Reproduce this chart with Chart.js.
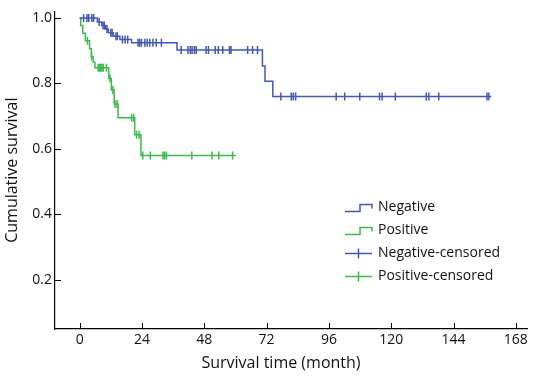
<!DOCTYPE html>
<html>
<head>
<meta charset="utf-8">
<script src="https://cdn.jsdelivr.net/npm/chart.js@4"></script>
<style>
html, body { margin: 0; padding: 0; background: #fff; }
#wrap { width: 533px; height: 377px; }
</style>
</head>
<body>
<div id="wrap"><canvas id="km"></canvas></div>
<script>
// Kaplan-Meier steps (time in months, cumulative survival)
var negTime = [0, 6.8, 8.5, 10, 11, 13, 15.5, 20, 37.5, 70.4, 71.4, 74.4, 158.6];
var negSurv = [1, 0.988, 0.977, 0.966, 0.955, 0.944, 0.934, 0.924, 0.902, 0.853, 0.807, 0.76, 0.76];
var posTime = [0, 0.4, 1.2, 2.2, 3.8, 4.5, 5.2, 5.9, 11.2, 12.2, 13.3, 14.8, 21.2, 23.6, 60.2];
var posSurv = [1, 0.977, 0.953, 0.93, 0.906, 0.882, 0.865, 0.848, 0.815, 0.78, 0.737, 0.695, 0.643, 0.58, 0.58];

// censored observations
var negCensTime = [1.5, 2.8, 3.5, 4.7, 5.4, 7.5, 9, 9.5, 10.5, 12, 12.5, 14, 14.5, 16.5, 17.5, 18.5,
  22.5, 23.1, 23.8, 25.1, 26, 27, 28.2, 29.5, 31.5,
  39.1, 41.7, 42.6, 43.3, 44.2, 44.9, 48.7, 49.6, 52.2, 53.4, 55.1, 57.7, 58.3, 64.7, 66.6, 68.5,
  77.5, 81.5, 82.3, 83.2, 98.8, 102.1, 107.9, 115.5, 116.5, 121.6, 133.5, 134.5, 138.3, 156.9, 157.6];
var negCensSurv = [1, 1, 1, 1, 1, 0.988, 0.977, 0.977, 0.966, 0.955, 0.955, 0.944, 0.944, 0.934, 0.934, 0.934,
  0.924, 0.924, 0.924, 0.924, 0.924, 0.924, 0.924, 0.924, 0.924,
  0.902, 0.902, 0.902, 0.902, 0.902, 0.902, 0.902, 0.902, 0.902, 0.902, 0.902, 0.902, 0.902, 0.902, 0.902, 0.902,
  0.76, 0.76, 0.76, 0.76, 0.76, 0.76, 0.76, 0.76, 0.76, 0.76, 0.76, 0.76, 0.76, 0.76, 0.76];
var posCensTime = [3.0, 4.6, 7.1, 7.6, 8.1, 8.6, 9.1, 10.3, 11.7, 12.8, 13.6, 14.4, 20.0, 20.8, 21.9, 22.9,
  24.3, 27.2, 32.1, 32.7, 33.4, 43.2, 51, 53.6, 58.9];
var posCensSurv = [0.93, 0.882, 0.848, 0.848, 0.848, 0.848, 0.848, 0.848, 0.815, 0.78, 0.737, 0.737, 0.695, 0.695, 0.643, 0.643,
  0.58, 0.58, 0.58, 0.58, 0.58, 0.58, 0.58, 0.58, 0.58];

var xTicks = [0, 24, 48, 72, 96, 120, 144, 168];
var yTicks = [0.2, 0.4, 0.6, 0.8, 1.0];
var labels = ['Negative', 'Positive', 'Negative-censored', 'Positive-censored'];
var xTitle = 'Survival time (month)';

var blue = '#4358b3';
var green = '#3cba4c';
var fontName = "'Open Sans', sans-serif";

function pts(t, v) {
  var out = [];
  for (var i = 0; i < t.length; i++) out.push({ x: t[i], y: v[i] });
  return out;
}

// inward tick marks + x title (SPSS puts it a bit left of centre)
var innerTicks = {
  id: 'innerTicks',
  afterDraw: function (chart) {
    var ctx = chart.ctx, xs = chart.scales.x, ys = chart.scales.y, a = chart.chartArea;
    ctx.save();
    ctx.strokeStyle = '#000';
    ctx.lineWidth = 1;
    xs.ticks.forEach(function (t) {
      var px = Math.round(xs.getPixelForValue(t.value)) + 0.5;
      ctx.beginPath(); ctx.moveTo(px, a.bottom); ctx.lineTo(px, a.bottom - 6); ctx.stroke();
    });
    ys.ticks.forEach(function (t) {
      var py = Math.round(ys.getPixelForValue(t.value)) + 0.5;
      ctx.beginPath(); ctx.moveTo(a.left, py); ctx.lineTo(a.left + 6, py); ctx.stroke();
    });
    ctx.fillStyle = '#111';
    ctx.font = '16px ' + fontName;
    ctx.textAlign = 'center';
    ctx.textBaseline = 'middle';
    ctx.fillText(xTitle, 281, 363);
    ctx.restore();
  }
};

// legend drawn inside the plot
var kmLegend = {
  id: 'kmLegend',
  afterDraw: function (chart) {
    var ctx = chart.ctx;
    var x0 = 345, y0 = 207.5, gap = 23;
    ctx.save();
    ctx.font = '14px ' + fontName;
    ctx.textBaseline = 'middle';
    chart.data.datasets.forEach(function (ds, i) {
      var y = y0 + i * gap;
      ctx.strokeStyle = ds.borderColor;
      ctx.lineWidth = 1.5;
      ctx.beginPath();
      if (i < 2) {
        ctx.moveTo(x0, y + 4); ctx.lineTo(x0 + 15, y + 4); ctx.lineTo(x0 + 15, y - 3);
        ctx.lineTo(x0 + 27, y - 3); ctx.lineTo(x0 + 27, y + 1);
      } else {
        ctx.moveTo(x0, y); ctx.lineTo(x0 + 27, y);
        ctx.moveTo(x0 + 13.5, y - 5); ctx.lineTo(x0 + 13.5, y + 5);
      }
      ctx.stroke();
      ctx.fillStyle = '#111';
      ctx.fillText(ds.label, x0 + 33, y);
    });
    ctx.restore();
  }
};

var ctx = document.getElementById('km').getContext('2d');
var chart = new Chart(ctx, {
  type: 'scatter',
  data: {
    datasets: [
      {
        label: labels[0],
        data: pts(negTime, negSurv),
        showLine: true,
        stepped: true,
        borderColor: blue,
        borderWidth: 1.5,
        pointRadius: 0
      },
      {
        label: labels[1],
        data: pts(posTime, posSurv),
        showLine: true,
        stepped: true,
        borderColor: green,
        borderWidth: 1.5,
        pointRadius: 0
      },
      {
        label: labels[2],
        data: pts(negCensTime, negCensSurv),
        borderColor: blue,
        pointStyle: 'line',
        rotation: 90,
        pointRadius: 4,
        pointBorderWidth: 1.5
      },
      {
        label: labels[3],
        data: pts(posCensTime, posCensSurv),
        borderColor: green,
        pointStyle: 'line',
        rotation: 90,
        pointRadius: 4,
        pointBorderWidth: 1.5
      }
    ]
  },
  options: {
    responsive: true,
    maintainAspectRatio: false,
    animation: false,
    layout: { padding: { top: 5, right: 2, left: 0, bottom: 0 } },
    plugins: {
      legend: { display: false },
      tooltip: { enabled: false }
    },
    scales: {
      x: {
        type: 'linear',
        min: -9.5,
        max: 172.5,
        afterBuildTicks: function (s) { s.ticks = xTicks.map(function (v) { return { value: v }; }); },
        afterFit: function (s) { s.height = 48; },
        grid: { drawOnChartArea: false, drawTicks: false },
        border: { color: '#000', width: 1.2 },
        ticks: { color: '#111', padding: 3, font: { family: fontName, size: 14 } }
      },
      y: {
        min: 0.05,
        max: 1.02,
        afterBuildTicks: function (s) { s.ticks = yTicks.map(function (v) { return { value: v }; }); },
        afterFit: function (s) { s.width = 55; },
        grid: { drawOnChartArea: false, drawTicks: false },
        border: { color: '#000', width: 1.2 },
        ticks: {
          color: '#111',
          padding: 3,
          font: { family: fontName, size: 14 },
          callback: function (v) { return v.toFixed(1); }
        },
        title: {
          display: true,
          text: 'Cumulative survival',
          color: '#111',
          font: { family: fontName, size: 16 },
          padding: { top: 3, bottom: 0 }
        }
      }
    }
  },
  plugins: [innerTicks, kmLegend]
});
</script>
</body>
</html>
